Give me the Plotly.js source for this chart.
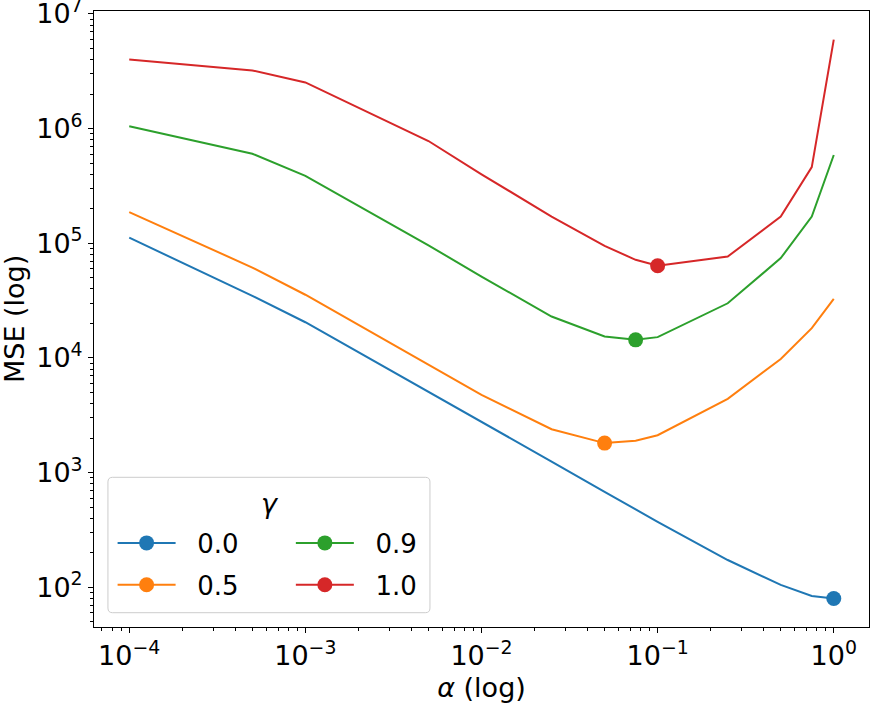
<!DOCTYPE html>
<html>
<head>
<meta charset="utf-8">
<script src="https://cdn.plot.ly/plotly-3.0.1.min.js"></script>
<style>
  html, body { margin: 0; padding: 0; background: #fff; }
  #chart { width: 871px; height: 703px; }
</style>
</head>
<body>
<div id="chart"></div>
<script>
// step sizes alpha (x) and the MSE for each momentum gamma
var alphas = [1e-4, 5e-4, 1e-3, 5e-3, 1e-2, 2.5e-2, 5e-2, 7.5e-2, 0.1, 0.25, 0.5, 0.75, 1];
var mseGamma00 = [1.12e5, 3.48e4, 2.05e4, 5.1e3, 2.8e3, 1.25e3, 680, 480, 373, 173, 105, 84, 80];
var mseGamma05 = [1.87e5, 6.15e4, 3.56e4, 8.8e3, 4.77e3, 2.39e3, 1.81e3, 1.9e3, 2.12e3, 4.4e3, 9.8e3, 1.82e4, 3.28e4];
var mseGamma09 = [1.05e6, 6.04e5, 3.88e5, 9.6e4, 5.13e4, 2.3e4, 1.54e4, 1.44e4, 1.52e4, 3.0e4, 7.43e4, 1.71e5, 5.89e5];
var mseGamma10 = [4.0e6, 3.22e6, 2.53e6, 7.8e5, 4.0e5, 1.71e5, 9.5e4, 7.18e4, 6.37e4, 7.67e4, 1.71e5, 4.62e5, 5.97e6];

var gammaLabels = ['0.0', '0.5', '0.9', '1.0'];
var gammaColors = ['#1f77b4', '#ff7f0e', '#2ca02c', '#d62728'];
var gammaSeries = [mseGamma00, mseGamma05, mseGamma09, mseGamma10];
var gammaLegend = ['legend', 'legend', 'legend2', 'legend2'];

var xTickVals = [1e-4, 1e-3, 1e-2, 1e-1, 1];
var xTickText = ['10<sup>\u22124</sup>', '10<sup>\u22123</sup>', '10<sup>\u22122</sup>', '10<sup>\u22121</sup>', '10<sup>0</sup>'];
var yTickVals = [1e2, 1e3, 1e4, 1e5, 1e6, 1e7];
var yTickText = ['10<sup>2</sup>', '10<sup>3</sup>', '10<sup>4</sup>', '10<sup>5</sup>', '10<sup>6</sup>', '10<sup>7</sup>'];

var FONT = 'DejaVu Sans, Liberation Sans, sans-serif';

function minorTicks(fromExp, toExp)
{
    var vals = [];
    for (var e = fromExp; e <= toExp; e++)
        for (var m = 2; m <= 9; m++)
            vals.push(m * Math.pow(10, e));
    return vals;
}

function argMin(arr)
{
    var best = 0;
    for (var i = 1; i < arr.length; i++)
        if (arr[i] < arr[best]) best = i;
    return best;
}

var traces = [];

// lines
gammaSeries.forEach(function(series, i) {
    traces.push({
        x: alphas,
        y: series,
        mode: 'lines',
        line: { color: gammaColors[i], width: 2 },
        showlegend: false,
        hoverinfo: 'skip'
    });
});

// minimum of each curve, also gives the legend entry
gammaSeries.forEach(function(series, i) {
    var k = argMin(series);
    traces.push({
        x: [alphas[k]],
        y: [series[k]],
        mode: 'lines+markers',
        // two nbsp push the label away from the legend line
        name: '\u00a0\u00a0' + gammaLabels[i],
        legend: gammaLegend[i],
        legendgroup: 'g' + i,
        line: { color: gammaColors[i], width: 2 },
        marker: { color: gammaColors[i], size: 15 },
        showlegend: true
    });
});

var axisCommon = {
    type: 'log',
    tickmode: 'array',
    ticks: 'outside',
    ticklen: 5,
    tickwidth: 1,
    tickcolor: '#000',
    showline: true,
    linecolor: '#000',
    linewidth: 1,
    mirror: true,
    showgrid: false,
    zeroline: false,
    ticklabeloverflow: 'allow',
    tickfont: { family: FONT, size: 27, color: '#000' }
};

var legendCommon = {
    bgcolor: 'rgba(0,0,0,0)',
    borderwidth: 0,
    font: { family: FONT, size: 26, color: '#000' },
    xanchor: 'left',
    yanchor: 'top',
    traceorder: 'grouped',
    tracegroupgap: 5,
    itemwidth: 58
};

// rounded legend frame in paper units
var bx0 = 0.018, bx1 = 0.4335, by0 = 0.0232, by1 = 0.243, rx = 0.006, ry = 0.0075;
var framePath = 'M' + (bx0 + rx) + ',' + by1 +
    ' L' + (bx1 - rx) + ',' + by1 + ' Q' + bx1 + ',' + by1 + ' ' + bx1 + ',' + (by1 - ry) +
    ' L' + bx1 + ',' + (by0 + ry) + ' Q' + bx1 + ',' + by0 + ' ' + (bx1 - rx) + ',' + by0 +
    ' L' + (bx0 + rx) + ',' + by0 + ' Q' + bx0 + ',' + by0 + ' ' + bx0 + ',' + (by0 + ry) +
    ' L' + bx0 + ',' + (by1 - ry) + ' Q' + bx0 + ',' + by1 + ' ' + (bx0 + rx) + ',' + by1 + ' Z';

var layout = {
    width: 871,
    height: 703,
    margin: { l: 94, r: 2, t: 11, b: 76, autoexpand: false },
    paper_bgcolor: '#fff',
    plot_bgcolor: '#fff',
    font: { family: FONT, color: '#000' },
    xaxis: Object.assign({}, axisCommon, {
        range: [-4.2, 0.2],
        tickvals: xTickVals,
        ticktext: xTickText,
        minor: { tickmode: 'array', tickvals: minorTicks(-5, 0), ticks: 'outside', ticklen: 3, tickwidth: 1, tickcolor: '#000', showgrid: false },
        title: { text: '<i>\u03b1</i> (log)', font: { family: FONT, size: 27, color: '#000' } }
    }),
    yaxis: Object.assign({}, axisCommon, {
        range: [1.654, 7.026],
        tickvals: yTickVals,
        ticktext: yTickText,
        minor: { tickmode: 'array', tickvals: minorTicks(1, 6), ticks: 'outside', ticklen: 3, tickwidth: 1, tickcolor: '#000', showgrid: false }
    }),
    legend: Object.assign({}, legendCommon, { x: 0.024, y: 0.1745 }),
    legend2: Object.assign({}, legendCommon, { x: 0.254, y: 0.1745 }),
    shapes: [{
        type: 'path',
        xref: 'paper',
        yref: 'paper',
        path: framePath,
        fillcolor: 'rgba(255,255,255,0.8)',
        line: { color: '#cccccc', width: 1 },
        layer: 'below'
    }],
    annotations: [{
        // legend title
        xref: 'paper',
        yref: 'paper',
        x: 0.227,
        y: 0.172,
        xanchor: 'center',
        yanchor: 'bottom',
        text: '<i>\u03b3</i>',
        showarrow: false,
        font: { family: FONT, size: 27, color: '#000' }
    }, {
        // y axis title, placed by hand
        xref: 'paper',
        yref: 'paper',
        x: -0.1032,
        y: 0.5,
        xanchor: 'center',
        yanchor: 'middle',
        textangle: -90,
        text: 'MSE (log)',
        showarrow: false,
        font: { family: FONT, size: 27, color: '#000' }
    }]
};

Plotly.newPlot('chart', traces, layout, { displayModeBar: false, staticPlot: true });
</script>
</body>
</html>
